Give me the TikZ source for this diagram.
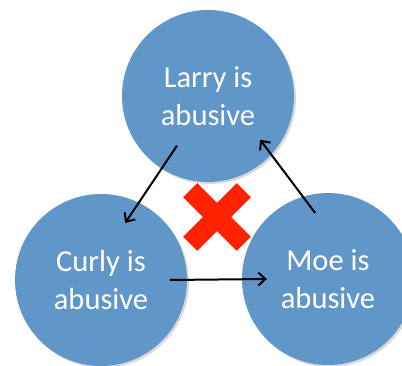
\documentclass[tikz,border=0pt]{standalone}
\usepackage{fontspec}
\setmainfont{Carlito}
\usetikzlibrary{arrows.meta,calc,shadows}
\definecolor{stoogeblue}{RGB}{97,150,200}
\definecolor{crossred}{RGB}{255,34,0}

\begin{document}
\begin{tikzpicture}[x=1pt, y=-1pt,
		stooge/.style={circle, fill=stoogeblue, minimum size=172pt, inner sep=0pt,
			text=white, align=center, font=\fontsize{30.5}{38}\selectfont,
			drop shadow={opacity=0.3, shadow xshift=2pt, shadow yshift=-2pt}},
		arr/.style={-{Straight Barb[length=7pt,width=13pt]}, line width=2pt}]
	\useasboundingbox (0,0) rectangle (402,366);
	\clip (0,0) rectangle (402,366);

	% circles
	\node[stooge] (larry) at (208,96) {Larry is\\abusive};
	\node[stooge] (curly) at (101,280) {Curly is\\abusive};
	\node[stooge] (moe) at (328,279) {Moe is\\abusive};

	% arrows
	\draw[arr] ($(larry.center)!0.68!(larry.238)$) -- ($(curly.center)!0.72!(curly.67)$);
	\draw[arr] ($(curly.center)!0.8!(curly.0)$) -- ($(moe.center)!0.71!(moe.180)$);
	\draw[arr] ($(moe.center)!0.78!(moe.101)$) -- ($(larry.center)!0.79!(larry.320)$);

	% red cross
	\fill[crossred, rotate around={45:(217,217)}] (179,207) rectangle (255,227);
	\fill[crossred, rotate around={-45:(217,217)}] (179,207) rectangle (255,227);
\end{tikzpicture}
\end{document}
